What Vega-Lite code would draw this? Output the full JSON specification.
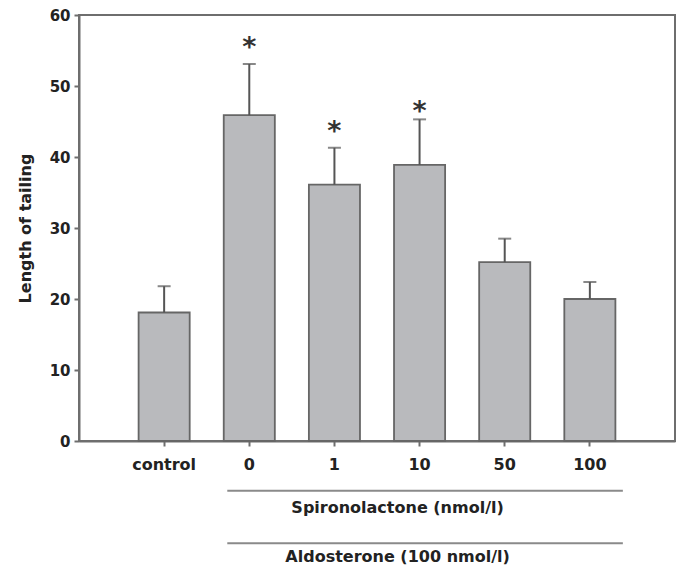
{
  "$schema": "https://vega.github.io/schema/vega-lite/v6.json",
  "width": 596,
  "height": 426,
  "autosize": {"type": "none"},
  "padding": {"left": 79, "top": 15, "right": 8, "bottom": 128},
  "background": "white",
  "config": {
    "view": {"stroke": "#6e6e6e", "strokeWidth": 2},
    "font": "DejaVu Sans"
  },
  "data": {
    "values": [
      {"group": "control", "value": 18.1, "err": 21.8, "sig": "", "star": null},
      {"group": "0", "value": 45.9, "err": 53.1, "sig": "*", "star": 56.2},
      {"group": "1", "value": 36.1, "err": 41.3, "sig": "*", "star": 44.4},
      {"group": "10", "value": 38.9, "err": 45.3, "sig": "*", "star": 47.2},
      {"group": "50", "value": 25.2, "err": 28.5, "sig": "", "star": null},
      {"group": "100", "value": 20.0, "err": 22.4, "sig": "", "star": null}
    ]
  },
  "encoding": {
    "x": {
      "field": "group",
      "type": "nominal",
      "sort": null,
      "scale": {"paddingInner": 0.4, "paddingOuter": 0.7},
      "axis": {
        "title": null,
        "labelAngle": 0,
        "labelFont": "DejaVu Sans",
        "labelFontWeight": "bold",
        "labelFontSize": 16,
        "labelColor": "#222222",
        "labelPadding": 10,
        "tickSize": 5,
        "tickWidth": 2,
        "tickColor": "#6e6e6e",
        "domainColor": "#6e6e6e",
        "domainWidth": 2
      }
    }
  },
  "layer": [
    {
      "mark": {"type": "bar", "fill": "#b9babd", "stroke": "#666666", "strokeWidth": 1.8},
      "encoding": {
        "y": {
          "field": "value",
          "type": "quantitative",
          "scale": {"domain": [0, 60], "nice": false},
          "axis": {
            "title": "Length of tailing",
            "titleFont": "DejaVu Sans",
            "titleFontWeight": "bold",
            "titleFontSize": 16,
            "titleColor": "#222222",
            "titlePadding": 16,
            "values": [0, 10, 20, 30, 40, 50, 60],
            "grid": false,
            "labelFont": "DejaVu Sans",
            "labelFontWeight": "bold",
            "labelFontSize": 15,
            "labelColor": "#222222",
            "labelPadding": 4,
            "tickSize": 5,
            "tickWidth": 2,
            "tickColor": "#6e6e6e",
            "domainColor": "#6e6e6e",
            "domainWidth": 2
          }
        }
      }
    },
    {
      "mark": {"type": "rule", "stroke": "#555555", "strokeWidth": 2},
      "encoding": {
        "y": {"field": "value", "type": "quantitative"},
        "y2": {"field": "err"}
      }
    },
    {
      "mark": {"type": "tick", "color": "#555555", "size": 13, "thickness": 2, "orient": "horizontal"},
      "encoding": {
        "y": {"field": "err", "type": "quantitative"}
      }
    },
    {
      "transform": [{"filter": "datum.sig != ''"}],
      "mark": {"type": "text", "font": "DejaVu Sans", "fontWeight": "bold", "fontSize": 27, "baseline": "middle", "align": "center", "color": "#333333", "dy": 6},
      "encoding": {
        "y": {"field": "star", "type": "quantitative"},
        "text": {"field": "sig"}
      }
    },
    {
      "data": {"values": [{}]},
      "mark": {"type": "rule", "stroke": "#8a8a8a", "strokeWidth": 2, "xOffset": -22, "x2Offset": 33},
      "encoding": {
        "x": {"datum": "0"},
        "x2": {"datum": "100"},
        "y": {"datum": -7}
      }
    },
    {
      "data": {"values": [{}]},
      "mark": {"type": "rule", "stroke": "#8a8a8a", "strokeWidth": 2, "xOffset": -22, "x2Offset": 33},
      "encoding": {
        "x": {"datum": "0"},
        "x2": {"datum": "100"},
        "y": {"datum": -14.4}
      }
    },
    {
      "data": {"values": [{}]},
      "mark": {"type": "text", "text": "Spironolactone (nmol/l)", "font": "DejaVu Sans", "fontWeight": "bold", "fontSize": 16, "color": "#222222", "baseline": "middle", "align": "center", "dx": -22},
      "encoding": {
        "x": {"datum": "10"},
        "y": {"datum": -9.4}
      }
    },
    {
      "data": {"values": [{}]},
      "mark": {"type": "text", "text": "Aldosterone (100 nmol/l)", "font": "DejaVu Sans", "fontWeight": "bold", "fontSize": 16, "color": "#222222", "baseline": "middle", "align": "center", "dx": -22},
      "encoding": {
        "x": {"datum": "10"},
        "y": {"datum": -16.4}
      }
    }
  ]
}
